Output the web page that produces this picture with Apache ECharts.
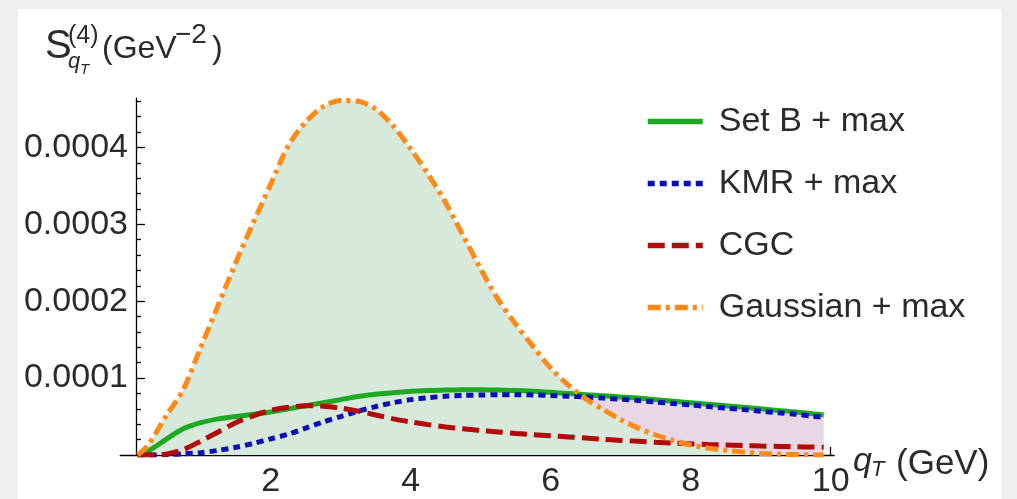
<!DOCTYPE html>
<html>
<head>
<meta charset="utf-8">
<script src="https://cdn.jsdelivr.net/npm/echarts@6/dist/echarts.min.js"></script>
<style>
  html, body { margin: 0; padding: 0; background: #efefef; }
  #chart { width: 1017px; height: 499px; }
</style>
</head>
<body>
<div id="chart"></div>
<script>
// Transverse-momentum distributions S^(4)_{qT}, values in units of 1e-4 GeV^-2
const qT = [0.1, 0.25, 0.5, 0.75, 1, 1.25, 1.5, 1.75, 2, 2.25, 2.5, 2.75, 3, 3.25, 3.5, 3.75,
            4, 4.25, 4.5, 4.75, 5, 5.25, 5.5, 5.75, 6, 6.25, 6.5, 6.75, 7, 7.25, 7.5, 7.75,
            8, 8.25, 8.5, 8.75, 9, 9.25, 9.5, 9.75, 9.9];

const setB = [0.00, 0.05, 0.20, 0.34, 0.42, 0.47, 0.50, 0.53, 0.56, 0.60, 0.64, 0.68, 0.72, 0.76, 0.79, 0.81,
              0.83, 0.84, 0.845, 0.85, 0.85, 0.845, 0.84, 0.83, 0.815, 0.80, 0.785, 0.77, 0.755, 0.74, 0.72, 0.70,
              0.68, 0.66, 0.64, 0.62, 0.60, 0.58, 0.56, 0.535, 0.52];

const kmr = [0.00, 0.00, 0.005, 0.015, 0.03, 0.06, 0.10, 0.15, 0.21, 0.27, 0.35, 0.43, 0.50, 0.57, 0.63, 0.68,
             0.72, 0.745, 0.765, 0.775, 0.78, 0.785, 0.785, 0.78, 0.775, 0.765, 0.755, 0.74, 0.725, 0.71, 0.69, 0.67,
             0.65, 0.63, 0.61, 0.59, 0.57, 0.55, 0.53, 0.505, 0.49];

const cgc = [0.00, 0.00, 0.01, 0.07, 0.18, 0.30, 0.42, 0.51, 0.58, 0.62, 0.64, 0.635, 0.61, 0.57, 0.52, 0.47,
             0.43, 0.395, 0.365, 0.34, 0.32, 0.30, 0.28, 0.265, 0.25, 0.235, 0.22, 0.205, 0.19, 0.178, 0.166, 0.155,
             0.145, 0.137, 0.13, 0.123, 0.117, 0.112, 0.107, 0.103, 0.10];

const gaussian = [0.00, 0.13, 0.50, 0.85, 1.40, 1.95, 2.50, 3.02, 3.52, 4.02, 4.33, 4.53, 4.61, 4.60, 4.50, 4.28,
                  3.98, 3.65, 3.28, 2.85, 2.42, 2.02, 1.70, 1.41, 1.13, 0.91, 0.73, 0.59, 0.46, 0.35, 0.26, 0.19,
                  0.13, 0.09, 0.06, 0.04, 0.02, 0.01, 0.005, 0.0, 0.0];

const seriesNames = ['Set B + max', 'KMR + max', 'CGC', 'Gaussian + max'];

const xMajorTicks = [2, 4, 6, 8, 10];
const xMinorTicks = [0.5, 1, 1.5, 2.5, 3, 3.5, 4.5, 5, 5.5, 6.5, 7, 7.5, 8.5, 9, 9.5];
const yMajorTicks = [0.0001, 0.0002, 0.0003, 0.0004];
const yMinorTicks = [0.00002, 0.00004, 0.00006, 0.00008, 0.00012, 0.00014, 0.00016, 0.00018,
                     0.00022, 0.00024, 0.00026, 0.00028, 0.00032, 0.00034, 0.00036, 0.00038,
                     0.00042, 0.00044, 0.00046];

const UNIT = 1e-4;
const X_MIN = -0.15, X_MAX = 10.05;
const Y_MIN = 0, Y_MAX = 0.000464;
const Y_AXIS_SHIFT = -15.75;   // vertical axis sits at qT ≈ 0.075

const TEXT = '#2b2b2b';
const FONT = '"Liberation Sans", Arial, sans-serif';
const C_GREEN = '#1daa22', C_BLUE = '#0b0fb8', C_RED = '#b30a0a', C_ORANGE = '#ff8a17';
const FILL_GREEN = '#d7e9db', FILL_PINK = '#e8d8e6';

const toPoints = arr => qT.map((x, i) => [x, arr[i] * UNIT]);

const SMOOTH = 0.3;
const LW = 5;
const lineBase = { type: 'line', smooth: SMOOTH, symbol: 'none', showSymbol: false, xAxisIndex: 0, yAxisIndex: 0 };

const chart = echarts.init(document.getElementById('chart'), null, { renderer: 'canvas' });

const axisLineStyle = { color: '#000', width: 1.3 };

chart.setOption({
  backgroundColor: '#efefef',
  animation: false,
  grid: { left: 120.2, right: 182.8, top: 98.2, bottom: 37.3, containLabel: false },
  xAxis: [
    {
      type: 'value', min: X_MIN, max: X_MAX, position: 'bottom',
      axisLine: { show: true, onZero: false, lineStyle: axisLineStyle },
      axisTick: { show: true, inside: true, length: 8, customValues: xMajorTicks, lineStyle: axisLineStyle },
      axisLabel: { show: true, customValues: xMajorTicks, margin: 10, fontSize: 34, fontFamily: FONT, color: TEXT },
      splitLine: { show: false }
    },
    {
      type: 'value', min: X_MIN, max: X_MAX, position: 'bottom',
      axisLine: { show: false, onZero: false },
      axisTick: { show: true, inside: true, length: 4, customValues: xMinorTicks, lineStyle: axisLineStyle },
      axisLabel: { show: false },
      splitLine: { show: false }
    }
  ],
  yAxis: [
    {
      type: 'value', min: Y_MIN, max: Y_MAX, position: 'left', offset: Y_AXIS_SHIFT,
      axisLine: { show: true, onZero: false, lineStyle: axisLineStyle },
      axisTick: { show: true, inside: true, length: 9, customValues: yMajorTicks, lineStyle: axisLineStyle },
      axisLabel: { show: true, customValues: yMajorTicks, margin: 8, fontSize: 34, fontFamily: FONT, color: TEXT,
                   formatter: v => v.toFixed(4) },
      splitLine: { show: false }
    },
    {
      type: 'value', min: Y_MIN, max: Y_MAX, position: 'left', offset: Y_AXIS_SHIFT,
      axisLine: { show: false, onZero: false },
      axisTick: { show: true, inside: true, length: 5, customValues: yMinorTicks, lineStyle: axisLineStyle },
      axisLabel: { show: false },
      splitLine: { show: false }
    }
  ],
  legend: {
    data: seriesNames,
    orient: 'vertical',
    left: 645, top: 101.5,
    padding: 0,
    itemWidth: 55, itemHeight: 14, itemGap: 22,
    itemStyle: { opacity: 0 },
    lineStyle: { width: 5.5 },
    textStyle: { fontSize: 34, fontFamily: FONT, color: TEXT, lineHeight: 40, padding: [0, 0, 0, 11] },
    selectedMode: false
  },
  graphic: [
    { type: 'rect', z: -10, silent: true, shape: { x: 18, y: 9, width: 983, height: 500 }, style: { fill: '#ffffff' } },
    // vertical axis title: S^(4)_{qT} (GeV^-2)
    { type: 'text', z: 10, x: 45, y: 47, style: { text: 'S', font: '40px ' + FONT, fill: TEXT, verticalAlign: 'middle' } },
    { type: 'text', z: 10, x: 68, y: 36, style: { text: '(4)', font: '25px ' + FONT, fill: TEXT, verticalAlign: 'middle' } },
    { type: 'text', z: 10, x: 68, y: 62, style: { text: 'q', font: 'italic 22px ' + FONT, fill: TEXT, verticalAlign: 'middle' } },
    { type: 'text', z: 10, x: 80, y: 70, style: { text: 'T', font: 'italic 15px ' + FONT, fill: TEXT, verticalAlign: 'middle' } },
    { type: 'text', z: 10, x: 102, y: 49, style: { text: '(GeV', font: '32px ' + FONT, fill: TEXT, verticalAlign: 'middle' } },
    { type: 'text', z: 10, x: 175, y: 35, style: { text: '\u22122', font: '28px ' + FONT, fill: TEXT, verticalAlign: 'middle' } },
    { type: 'text', z: 10, x: 212, y: 49, style: { text: ')', font: '32px ' + FONT, fill: TEXT, verticalAlign: 'middle' } },
    // horizontal axis title: q_T (GeV)
    { type: 'text', z: 10, x: 853, y: 462, style: { text: 'q', font: 'italic 34px ' + FONT, fill: TEXT, verticalAlign: 'middle' } },
    { type: 'text', z: 10, x: 871, y: 470, style: { text: 'T', font: 'italic 22px ' + FONT, fill: TEXT, verticalAlign: 'middle' } },
    { type: 'text', z: 10, x: 896, y: 464, style: { text: '(GeV)', font: '35px ' + FONT, fill: TEXT, verticalAlign: 'middle' } }
  ],
  series: [
    // pink under Set B, then green under the Gaussian on top: pink stays visible only where Set B is higher
    Object.assign({}, lineBase, {
      name: 'fill-setB', data: toPoints(setB), silent: true, z: 1,
      lineStyle: { width: 0, opacity: 0 }, areaStyle: { color: FILL_PINK, opacity: 1, origin: 'start' }
    }),
    Object.assign({}, lineBase, {
      name: 'fill-gaussian', data: toPoints(gaussian), silent: true, z: 1,
      lineStyle: { width: 0, opacity: 0 }, areaStyle: { color: FILL_GREEN, opacity: 1, origin: 'start' }
    }),
    Object.assign({}, lineBase, {
      name: seriesNames[0], data: toPoints(setB), z: 3,
      lineStyle: { color: C_GREEN, width: LW }, itemStyle: { color: C_GREEN }
    }),
    Object.assign({}, lineBase, {
      name: seriesNames[1], data: toPoints(kmr), z: 3,
      lineStyle: { color: C_BLUE, width: LW, type: [7, 5] }, itemStyle: { color: C_BLUE }
    }),
    Object.assign({}, lineBase, {
      name: seriesNames[2], data: toPoints(cgc), z: 3,
      lineStyle: { color: C_RED, width: LW, type: [17, 7] }, itemStyle: { color: C_RED }
    }),
    Object.assign({}, lineBase, {
      name: seriesNames[3], data: toPoints(gaussian), z: 3,
      lineStyle: { color: C_ORANGE, width: LW, type: [13, 5, 4, 5] }, itemStyle: { color: C_ORANGE }
    })
  ]
});
</script>
</body>
</html>
